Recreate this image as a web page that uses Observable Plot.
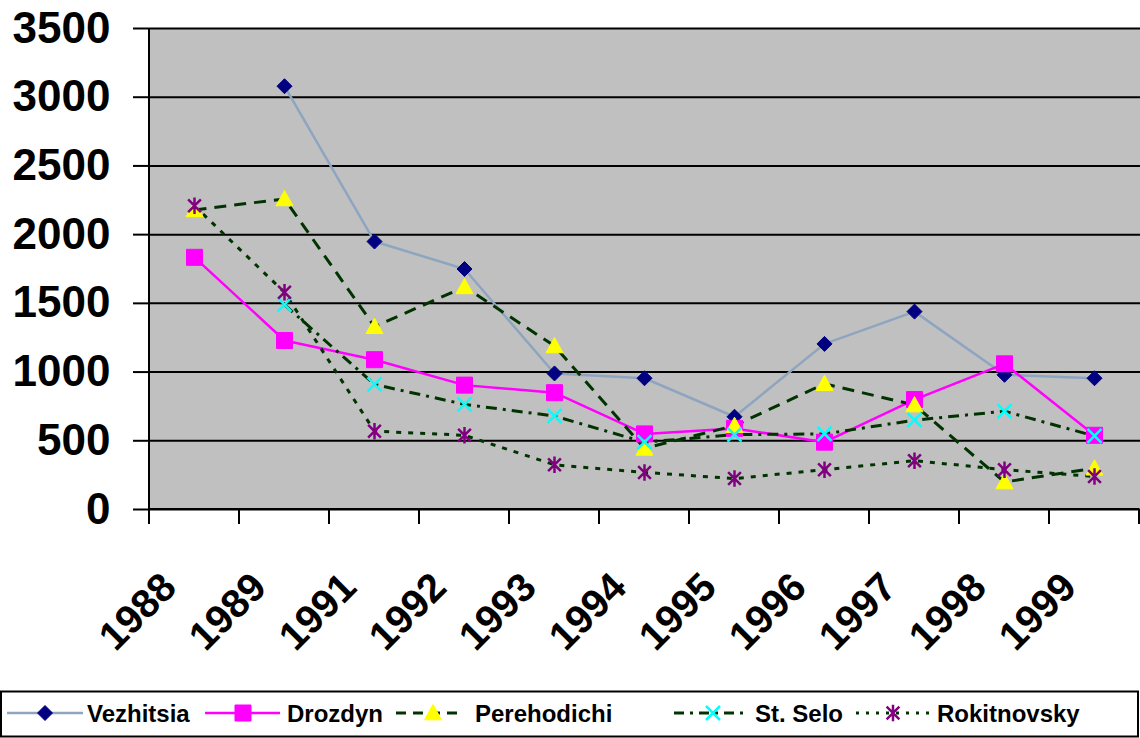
<!DOCTYPE html>
<html>
<head>
<meta charset="utf-8">
<script src="https://cdn.jsdelivr.net/npm/d3@7"></script>
<script src="https://cdn.jsdelivr.net/npm/@observablehq/plot@0.6"></script>
<style>
  html, body { margin: 0; padding: 0; background: #fff; }
  body { width: 1140px; height: 738px; overflow: hidden; font-family: Arial, "Liberation Sans", sans-serif; }
  #chart, #legend { display: block; }
</style>
</head>
<body>
<div id="chart"></div>
<div id="legend"></div>
<script>
// ---- data ----
const years = ["1988", "1989", "1991", "1992", "1993", "1994", "1995", "1996", "1997", "1998", "1999"];
const yTicks = [0, 500, 1000, 1500, 2000, 2500, 3000, 3500];
const seriesNames = ["Vezhitsia", "Drozdyn", "Perehodichi", "St. Selo", "Rokitnovsky"];
const vezhitsia   = [null, 3080, 1950, 1750, 990, 955, 675, 1205, 1440, 980, 955];
const drozdyn     = [1835, 1230, 1090, 905, 850, 550, 590, 490, 800, 1060, 540];
const perehodichi = [2180, 2260, 1330, 1620, 1190, 445, 610, 915, 760, 200, 300];
const stSelo      = [null, 1490, 910, 765, 680, 490, 545, 550, 650, 715, 535];
const rokitnovsky = [2210, 1580, 570, 540, 325, 270, 225, 290, 355, 290, 240];
const seriesValues = [vezhitsia, drozdyn, perehodichi, stSelo, rokitnovsky];

// ---- custom marker symbols (size = r*r*PI) ----
const rad = s => Math.sqrt(s / Math.PI);
const symDiamond = { draw(c, s) { const r = rad(s); c.moveTo(0, -r); c.lineTo(r, 0); c.lineTo(0, r); c.lineTo(-r, 0); c.closePath(); } };
const symSquare = { draw(c, s) { const r = rad(s); c.rect(-r, -r, 2 * r, 2 * r); } };
const symTriangle = { draw(c, s) { const r = rad(s); c.moveTo(0, -r); c.lineTo(r, 0.8 * r); c.lineTo(-r, 0.8 * r); c.closePath(); } };
const symTimes = { draw(c, s) { const r = rad(s); c.moveTo(-r, -r); c.lineTo(r, r); c.moveTo(r, -r); c.lineTo(-r, r); } };
const symStar = { draw(c, s) { const r = rad(s); const a = r * 0.85; c.moveTo(-a, -a); c.lineTo(a, a); c.moveTo(a, -a); c.lineTo(-a, a); c.moveTo(0, -r * 1.1); c.lineTo(0, r * 1.1); } };

const styles = [
  { line: "#8ea5c0", lw: 2.5, dash: null, legendDash: null, symbol: symDiamond, r: 7.5, fill: "#000080", stroke: "#000080", sw: 1 },
  { line: "#ff00ff", lw: 2.5, dash: null, legendDash: null, symbol: symSquare, r: 8, fill: "#ff00ff", stroke: "#ff00ff", sw: 1 },
  { line: "#003300", lw: 3, dash: "12 8", legendDash: "10 7", symbol: symTriangle, r: 8.5, fill: "#ffff00", stroke: "#ffff00", sw: 1 },
  { line: "#003300", lw: 3, dash: "11 6 3 6", legendDash: "10 6 3 6", symbol: symTimes, r: 7, fill: "none", stroke: "#00ffff", sw: 2.5 },
  { line: "#003300", lw: 3, dash: "5 7", legendDash: "3 7", symbol: symStar, r: 7.5, fill: "none", stroke: "#800080", sw: 2.5 }
];

const rows = seriesNames.map((name, si) =>
  years.map((year, i) => ({ series: name, year, value: seriesValues[si][i] }))
);

const seriesMarks = [];
rows.forEach((data, si) => {
  const st = styles[si];
  seriesMarks.push(Plot.line(data, {
    x: "year", y: "value", stroke: st.line, strokeWidth: st.lw,
    strokeDasharray: st.dash, strokeLinejoin: "round", strokeLinecap: "butt"
  }));
});
rows.forEach((data, si) => {
  const st = styles[si];
  seriesMarks.push(Plot.dot(data.filter(d => d.value != null), {
    x: "year", y: "value", symbol: st.symbol, r: st.r,
    fill: st.fill, stroke: st.stroke, strokeWidth: st.sw
  }));
});

// axis lines and category boundary ticks
const axisLines = (index, scales) => {
  const x = scales.x, y = scales.y;
  const step = x(years[1]) - x(years[0]);
  const left = x(years[0]) - step / 2;
  const right = x(years[years.length - 1]) + step / 2;
  const y0 = y(0), yTop = y(3500);
  const g = d3.create("svg:g").attr("stroke", "#000").attr("stroke-width", 2).attr("fill", "none");
  g.append("line").attr("x1", left).attr("x2", left).attr("y1", yTop).attr("y2", y0 + 15);
  g.append("line").attr("x1", left).attr("x2", right).attr("y1", y0).attr("y2", y0);
  years.forEach(yr => {
    const bx = x(yr) + step / 2;
    g.append("line").attr("x1", bx).attr("x2", bx).attr("y1", y0).attr("y2", y0 + 15);
  });
  return g.node();
};

const chart = Plot.plot({
  width: 1140,
  height: 690,
  marginLeft: 148,
  marginRight: 0,
  marginTop: 28,
  marginBottom: 181,
  style: { fontFamily: "Arial, 'Liberation Sans', sans-serif", color: "#000", background: "#fff", overflow: "visible" },
  x: { type: "point", domain: years, padding: 0.5, label: null, axis: null },
  y: { domain: [0, 3500], label: null, axis: null },
  marks: [
    Plot.frame({ fill: "#c0c0c0", stroke: null }),
    Plot.gridY(yTicks, { stroke: "#000", strokeOpacity: 1, strokeWidth: 2 }),
    axisLines,
    ...seriesMarks,
    Plot.axisY(yTicks, {
      tickSize: 15, tickPadding: 23, tickFormat: d => String(d),
      fontSize: 44, fontWeight: "bold", stroke: "#000", strokeWidth: 2
    }),
    Plot.text(years, {
      x: d => d, frameAnchor: "bottom", text: d => d,
      rotate: -45, textAnchor: "end", lineAnchor: "bottom",
      dx: -16, dy: 80, fontSize: 40, fontWeight: "bold", fill: "#000"
    })
  ]
});
document.getElementById("chart").appendChild(chart);

// ---- legend ----
const legendItems = [
  { x1: 7, x2: 83, mx: 45, tx: 87 },
  { x1: 205, x2: 280, mx: 243, tx: 287 },
  { x1: 396, x2: 463, mx: 433, tx: 475 },
  { x1: 674, x2: 743, mx: 713, tx: 755 },
  { x1: 856, x2: 932, mx: 893, tx: 937 }
];
const lg = d3.create("svg").attr("width", 1140).attr("height", 48)
  .style("font-family", "Arial, 'Liberation Sans', sans-serif");
lg.append("rect").attr("x", 1).attr("y", 1.5).attr("width", 1137).attr("height", 45)
  .attr("fill", "#fff").attr("stroke", "#000").attr("stroke-width", 2);
legendItems.forEach((it, si) => {
  const st = styles[si];
  const cy = 23;
  lg.append("line").attr("x1", it.x1).attr("x2", it.x2).attr("y1", cy).attr("y2", cy)
    .attr("stroke", st.line).attr("stroke-width", st.lw)
    .attr("stroke-dasharray", st.legendDash);
  lg.append("path").attr("transform", `translate(${it.mx},${cy})`)
    .attr("d", d3.symbol(st.symbol, st.r * st.r * Math.PI)())
    .attr("fill", st.fill).attr("stroke", st.stroke).attr("stroke-width", st.sw);
  lg.append("text").attr("x", it.tx).attr("y", cy + 8.5)
    .attr("font-size", 24).attr("font-weight", "bold").attr("fill", "#000")
    .text(seriesNames[si]);
});
document.getElementById("legend").appendChild(lg.node());
</script>
</body>
</html>
